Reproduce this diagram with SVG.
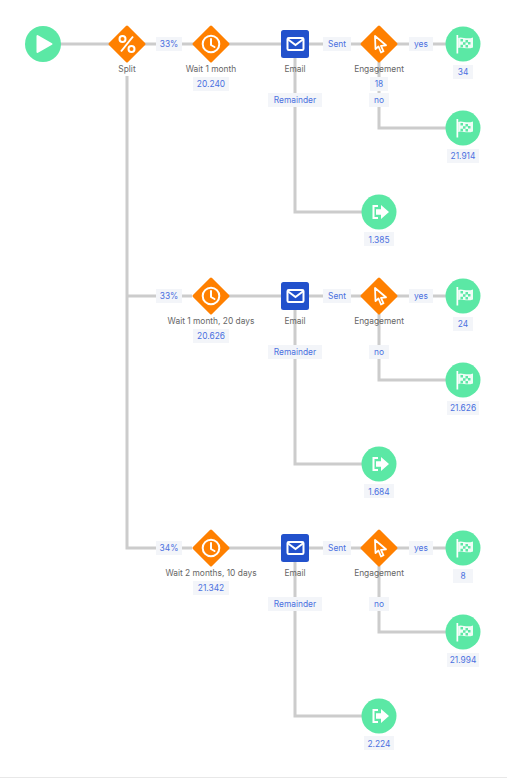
<svg xmlns="http://www.w3.org/2000/svg" width="507" height="778" viewBox="0 0 507 778">
<style>
text{font-family:Inter,"Open Sans","Liberation Sans",sans-serif;font-size:8.4px;text-anchor:middle}
.t{fill:#666}
.l{fill:#4a70e0}
.b{fill:#f3f5f9}
.c{fill:none;stroke:#ccc;stroke-width:3}
.g{fill:#5be8a5}
.o{fill:#ff8000;stroke:#ff8000;stroke-width:3;stroke-linejoin:round}
.e{fill:#2251cc}
.w{fill:#fff}
.s{fill:none;stroke:#fff;stroke-width:2}
</style>
<defs>
<g id="clock"><path class="o" d="M0-17 17 0 0 17-17 0Z"/><circle class="s" r="8.300"/><path class="s" stroke-linecap="round" stroke-linejoin="round" stroke-width="1.700" d="M0-5V1L3.500 3"/></g>
<g id="click"><path class="o" d="M0-17 17 0 0 17-17 0Z"/><path fill="none" stroke="#fff" stroke-width="1.800" stroke-linejoin="round" d="M-4-8 -3.500 5 -.5 2.500 2 8.500 4.500 7.300 2 1.800 7 1.300Z"/></g>
<g id="mail"><rect class="e" x="-14" y="-14" width="28" height="28" rx="2.500"/><rect class="s" x="-7.500" y="-6" width="16" height="12" rx="1.200"/><path class="s" d="M-7.500-5 .5 1 8.500-5"/></g>
<g id="flag"><circle class="g" r="17.500"/><path class="w" d="M-6.500-9H-4.800V9.500H-6.500Z"/><path class="w" opacity=".9" d="M-4.800-6C-1-8 3-4 10-6.500V3.500C3 6-1 2-4.800 4Z"/><path fill="#5be8a5" d="M-2.500-5h2.500v2.500h-2.500zM2.500-4h2.500v2.500h-2.500zM0-1.800h2.500V.7H0zM5-2h2.500v2.500H5zM-2.500 .7h2.500v2.500h-2.500zM2.500 1h2.500v2.500h-2.500z"/></g>
<g id="exit"><circle class="g" r="17.500"/><path class="s" stroke-width="2.200" d="M-1-6H-5.500V6H-1"/><path class="w" d="M-3-2.800H2V-7L10 0 2 7V2.800H-3Z"/></g>
</defs>
<rect x="0" y="0" width="507" height="778" fill="#fff"/>
<path d="M0 777.500H507" stroke="#e8e8e8" stroke-width="1"/>
<g id="connectors">
<path class="c" d="M60 44H446"/>
<path class="c" d="M127 76V548H192"/>
<path class="c" d="M127 296H192"/>
<path class="c" d="M295 58V212H362"/>
<path class="c" d="M379 62V128H446"/>
<path class="c" d="M211 296H446"/>
<path class="c" d="M295 310V464H362"/>
<path class="c" d="M379 314V380H446"/>
<path class="c" d="M211 548H446"/>
<path class="c" d="M295 562V716H362"/>
<path class="c" d="M379 566V632H446"/>
</g>
<g id="start"><circle class="g" cx="43" cy="44" r="18"/><path class="w" stroke="#fff" stroke-width="2" stroke-linejoin="round" d="M37.500 36V52L51.500 44Z"/></g>
<g id="split"><path class="o" transform="translate(127 44)" d="M0-17 17 0 0 17-17 0Z"/><circle class="s" cx="122.500" cy="39" r="3"/><circle class="s" cx="131.500" cy="49" r="3"/><path class="s" stroke-width="2.200" d="M133 36.500 121 51.500"/><text class="t" x="127" y="72">Split</text></g>

<g id="row1-pct"><rect class="b" x="156" y="37" width="26" height="14"/><text class="l" x="169" y="47">33%</text></g>
<g id="row1-wait"><use href="#clock" x="211" y="44"/><text class="t" x="211" y="72">Wait 1 month</text><rect class="b" x="193" y="77" width="36" height="14"/><text class="l" x="211" y="87">20.240</text></g>
<g id="row1-email"><use href="#mail" x="295" y="44"/><text class="t" x="295" y="72">Email</text></g>
<g id="row1-sent"><rect class="b" x="323" y="37" width="28" height="14"/><text class="l" x="337" y="47">Sent</text></g>
<g id="row1-remainder"><rect class="b" x="268" y="93" width="54" height="14"/><text class="l" x="295" y="103">Remainder</text></g>
<g id="row1-engagement"><use href="#click" x="379" y="44"/><text class="t" x="379" y="72">Engagement</text><rect class="b" x="370" y="77" width="18" height="14"/><text class="l" x="379" y="87">18</text></g>
<g id="row1-yes"><rect class="b" x="409" y="37" width="24" height="14"/><text class="l" x="421" y="47">yes</text></g>
<g id="row1-no"><rect class="b" x="369" y="93" width="20" height="14"/><text class="l" x="379" y="103">no</text></g>
<g id="row1-goal"><use href="#flag" x="463" y="44"/><rect class="b" x="453" y="65" width="20" height="14"/><text class="l" x="463" y="75">34</text></g>
<g id="row1-goal2"><use href="#flag" x="463" y="128"/><rect class="b" x="447" y="149" width="32" height="14"/><text class="l" x="463" y="159">21.914</text></g>
<g id="row1-exit"><use href="#exit" x="379" y="212"/><rect class="b" x="364" y="232" width="30" height="14"/><text class="l" x="379" y="243">1.385</text></g>

<g id="row2-pct"><rect class="b" x="156" y="289" width="26" height="14"/><text class="l" x="169" y="299">33%</text></g>
<g id="row2-wait"><use href="#clock" x="211" y="296"/><text class="t" x="211" y="324">Wait 1 month, 20 days</text><rect class="b" x="193" y="329" width="36" height="14"/><text class="l" x="211" y="339">20.626</text></g>
<g id="row2-email"><use href="#mail" x="295" y="296"/><text class="t" x="295" y="324">Email</text></g>
<g id="row2-sent"><rect class="b" x="323" y="289" width="28" height="14"/><text class="l" x="337" y="299">Sent</text></g>
<g id="row2-remainder"><rect class="b" x="268" y="345" width="54" height="14"/><text class="l" x="295" y="355">Remainder</text></g>
<g id="row2-engagement"><use href="#click" x="379" y="296"/><text class="t" x="379" y="324">Engagement</text></g>
<g id="row2-yes"><rect class="b" x="409" y="289" width="24" height="14"/><text class="l" x="421" y="299">yes</text></g>
<g id="row2-no"><rect class="b" x="369" y="345" width="20" height="14"/><text class="l" x="379" y="355">no</text></g>
<g id="row2-goal"><use href="#flag" x="463" y="296"/><rect class="b" x="453" y="317" width="20" height="14"/><text class="l" x="463" y="327">24</text></g>
<g id="row2-goal2"><use href="#flag" x="463" y="380"/><rect class="b" x="447" y="401" width="32" height="14"/><text class="l" x="463" y="411">21.626</text></g>
<g id="row2-exit"><use href="#exit" x="379" y="464"/><rect class="b" x="364" y="484" width="30" height="14"/><text class="l" x="379" y="495">1.684</text></g>

<g id="row3-pct"><rect class="b" x="156" y="541" width="26" height="14"/><text class="l" x="169" y="551">34%</text></g>
<g id="row3-wait"><use href="#clock" x="211" y="548"/><text class="t" x="211" y="576">Wait 2 months, 10 days</text><rect class="b" x="193" y="581" width="36" height="14"/><text class="l" x="211" y="591">21.342</text></g>
<g id="row3-email"><use href="#mail" x="295" y="548"/><text class="t" x="295" y="576">Email</text></g>
<g id="row3-sent"><rect class="b" x="323" y="541" width="28" height="14"/><text class="l" x="337" y="551">Sent</text></g>
<g id="row3-remainder"><rect class="b" x="268" y="597" width="54" height="14"/><text class="l" x="295" y="607">Remainder</text></g>
<g id="row3-engagement"><use href="#click" x="379" y="548"/><text class="t" x="379" y="576">Engagement</text></g>
<g id="row3-yes"><rect class="b" x="409" y="541" width="24" height="14"/><text class="l" x="421" y="551">yes</text></g>
<g id="row3-no"><rect class="b" x="369" y="597" width="20" height="14"/><text class="l" x="379" y="607">no</text></g>
<g id="row3-goal"><use href="#flag" x="463" y="548"/><rect class="b" x="453" y="569" width="20" height="14"/><text class="l" x="463" y="579">8</text></g>
<g id="row3-goal2"><use href="#flag" x="463" y="632"/><rect class="b" x="447" y="653" width="32" height="14"/><text class="l" x="463" y="663">21.994</text></g>
<g id="row3-exit"><use href="#exit" x="379" y="716"/><rect class="b" x="364" y="736" width="30" height="14"/><text class="l" x="379" y="747">2.224</text></g>
</svg>
